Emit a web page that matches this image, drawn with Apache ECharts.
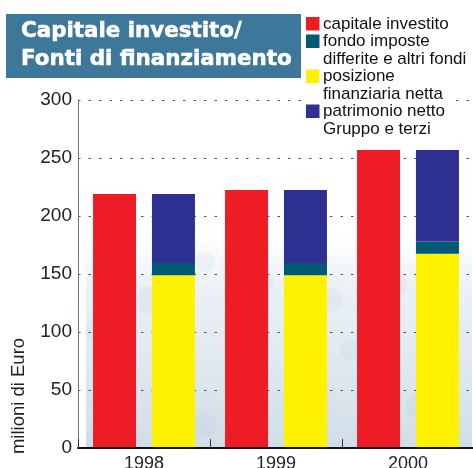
<!DOCTYPE html>
<html>
<head>
<meta charset="utf-8">
<script src="https://cdn.jsdelivr.net/npm/echarts@6/dist/echarts.min.js"></script>
<style>
html,body{margin:0;padding:0;background:#fff;overflow:hidden;}
#c{width:473px;height:468px;}
</style>
</head>
<body>
<div id="c"></div>
<script>
var years = ['1998', '1999', '2000'];
var capitaleInvestito = [219, 222.5, 257];
var posizioneFinanziaria = [149, 149, 167.5];
var fondoImposte = [10.5, 10.5, 10.5];
var patrimonioNetto = [59.5, 63, 79];
var yTicks = [0, 50, 100, 150, 200, 250, 300];
var titleLines = ['Capitale investito/', 'Fonti di finanziamento'];
var legendItems = [
  {lines: ['capitale investito'], color: '#ee1c25'},
  {lines: ['fondo imposte', 'differite e altri fondi'], color: '#005a75'},
  {lines: ['posizione', 'finanziaria netta'], color: '#fff200'},
  {lines: ['patrimonio netto', 'Gruppo e terzi'], color: '#2e3192'}
];
var yAxisName = 'milioni di Euro';

var chart = echarts.init(document.getElementById('c'), null, {renderer: 'canvas'});
var FONT = '"Liberation Sans", Arial, sans-serif';

var graphics = [];
// background texture
graphics.push({
  type: 'rect', z: -10, silent: true,
  shape: {x: 86, y: 235, width: 386, height: 213},
  style: {fill: new echarts.graphic.LinearGradient(0, 0, 0, 1, [
    {offset: 0, color: 'rgba(220,230,238,0)'},
    {offset: 0.25, color: 'rgba(215,227,236,0.5)'},
    {offset: 1, color: 'rgba(192,210,224,0.75)'}
  ])}
});
var blobs = [[150,300,14],[205,262,10],[262,280,12],[330,300,12],[395,285,12],[440,330,12],[118,390,14],[300,395,16],[420,405,14],[205,425,12],[350,350,10],[95,330,10]];
blobs.forEach(function(b){
  graphics.push({type:'circle', z:-9, silent:true, shape:{cx:b[0], cy:b[1], r:b[2]},
    style:{fill:'rgba(170,195,215,0.12)', shadowBlur:30, shadowColor:'rgba(160,188,210,0.6)'}});
});
// title box
graphics.push({type: 'rect', shape: {x: 6, y: 14, width: 295, height: 64}, style: {fill: '#3d7799'}, z: 10});
titleLines.forEach(function(t, i){
  graphics.push({type: 'text', z: 11, x: 21, y: 31 + i * 28,
    style: {text: t, fill: '#fff', stroke: '#fff', lineWidth: 0.6, font: 'bold 21.4px "DejaVu Sans", sans-serif', textAlign: 'left', textVerticalAlign: 'middle', verticalAlign: 'middle'}});
});
// legend
graphics.push({type: 'rect', z: 10, shape: {x: 303, y: 14, width: 150, height: 126}, style: {fill: '#fff'}});
var line = 0;
legendItems.forEach(function(it){
  var cy = 24 + line * 17.5;
  graphics.push({type: 'rect', z: 11, shape: {x: 306, y: cy - 7, width: 13.5, height: 13.5}, style: {fill: it.color}});
  it.lines.forEach(function(l){
    graphics.push({type: 'text', z: 11, x: 323, y: 24 + line * 17.5,
      style: {text: l, fill: '#111', font: '17px ' + FONT, textAlign: 'left', textVerticalAlign: 'middle', verticalAlign: 'middle'}});
    line++;
  });
});
// y axis name
graphics.push({type: 'text', z: 11, x: 19, y: 396, rotation: Math.PI / 2,
  style: {text: yAxisName, fill: '#222', font: '18.5px ' + FONT, textAlign: 'center', textVerticalAlign: 'middle', verticalAlign: 'middle'}});

var option = {
  animation: false,
  backgroundColor: '#fff',
  grid: {left: 78, top: 100, width: 396, height: 348, containLabel: false, outerBoundsMode: 'none'},
  xAxis: {
    type: 'category', data: years, boundaryGap: true,
    axisLine: {show: true, lineStyle: {color: '#111', width: 2}},
    axisTick: {show: true, inside: true, length: 9, lineStyle: {color: '#333', width: 1}},
    axisLabel: {fontSize: 18, color: '#222', fontFamily: FONT, margin: 7},
    splitLine: {show: false}, z: 5
  },
  yAxis: {
    type: 'value', min: yTicks[0], max: yTicks[yTicks.length - 1], interval: 50,
    axisLine: {show: true, lineStyle: {color: '#777', width: 1}},
    axisTick: {show: false},
    axisLabel: {fontSize: 19, color: '#222', fontFamily: FONT, margin: 6},
    splitLine: {show: true, lineStyle: {color: '#555', width: 1.2, type: [2.5, 8]}}
  },
  graphic: graphics,
  series: [
    {name: 'capitale investito', type: 'bar', data: capitaleInvestito, barWidth: 43, barGap: '37%', itemStyle: {color: '#ee1c25'}, z: 3},
    {name: 'posizione finanziaria netta', type: 'bar', stack: 'fonti', data: posizioneFinanziaria, barWidth: 43, barGap: '37%', itemStyle: {color: '#fff200'}, z: 3},
    {name: 'fondo imposte differite e altri fondi', type: 'bar', stack: 'fonti', data: fondoImposte, barWidth: 43, barGap: '37%', itemStyle: {color: '#005a75'}, z: 3},
    {name: 'patrimonio netto Gruppo e terzi', type: 'bar', stack: 'fonti', data: patrimonioNetto, barWidth: 43, barGap: '37%', itemStyle: {color: '#2e3192'}, z: 3}
  ]
};
chart.setOption(option);
</script>
</body>
</html>
